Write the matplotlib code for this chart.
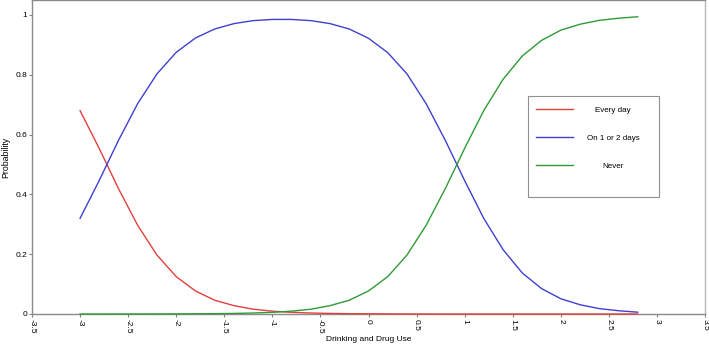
import matplotlib
matplotlib.use("Agg")
import matplotlib.pyplot as plt
from matplotlib.patches import Rectangle
import numpy as np

plt.rcParams['font.family'] = ['Liberation Sans', 'DejaVu Sans']

# predicted probabilities
use = [-3.0, -2.8, -2.6, -2.4, -2.2, -2.0, -1.8, -1.6, -1.4, -1.2,
       -1.0, -0.8, -0.6, -0.4, -0.2, 0.0, 0.2, 0.4, 0.6, 0.8,
       1.0, 1.2, 1.4, 1.6, 1.8, 2.0, 2.2, 2.4, 2.6, 2.8]
every_day = [0.680, 0.553, 0.419, 0.296, 0.197, 0.125, 0.077, 0.046, 0.028, 0.016,
             0.0095, 0.0056, 0.0033, 0.0019, 0.0011, 0.0007, 0.0004, 0.0002, 0.0001, 0.0001,
             0.0, 0.0, 0.0, 0.0, 0.0, 0.0, 0.0, 0.0, 0.0, 0.0]
one_two = [0.320, 0.447, 0.581, 0.704, 0.803, 0.875, 0.923, 0.953, 0.971, 0.981,
           0.985, 0.985, 0.981, 0.971, 0.953, 0.922, 0.874, 0.803, 0.703, 0.580,
           0.446, 0.319, 0.215, 0.137, 0.085, 0.051, 0.031, 0.018, 0.011, 0.006]
never = [0.0, 0.0, 0.0001, 0.0001, 0.0002, 0.0004, 0.0007, 0.0011, 0.0019, 0.0033,
         0.0056, 0.0095, 0.016, 0.028, 0.046, 0.077, 0.125, 0.197, 0.297, 0.420,
         0.554, 0.681, 0.785, 0.863, 0.915, 0.949, 0.969, 0.982, 0.989, 0.994]
labels = ['Every day', 'On 1 or 2 days', 'Never']
xticks = np.arange(-3.5, 3.51, 0.5)
yticks = [0, 0.2, 0.4, 0.6, 0.8, 1]

fig = plt.figure(figsize=(7.09, 3.47), dpi=100)
ax = fig.add_axes([32/709, 33/347, 673/709, 314/347])

l1, = ax.plot(use, every_day, color='#e2403c', lw=1, clip_on=False, zorder=3)
l2, = ax.plot(use, one_two, color='#4040d0', lw=1, clip_on=False, zorder=3)
l3, = ax.plot(use, never, color='#2f9a36', lw=1, clip_on=False, zorder=3)

ax.set_xlim(-3.5, 3.5)
ax.set_ylim(0, 1.05)
ax.set_xticks(xticks)
ax.set_xticklabels(['%g' % t for t in xticks], rotation=270)
ax.set_yticks(yticks)
ax.set_yticklabels(['%g' % t for t in yticks])
ax.tick_params(direction='out', length=2.5, width=0.8, color='#808080',
               labelsize=6, pad=0.8)
for s in ax.spines.values():
    s.set_color('#8a8a8a')
    s.set_linewidth(1)
ax.spines['right'].set_color('#b8b8b8')

ax.set_xlabel('Drinking and Drug Use', fontsize=6, labelpad=2)
ax.set_ylabel('Probability', fontsize=6.3, labelpad=4)

# legend box
ax.add_patch(Rectangle((0.737, 0.373), 0.195, 0.321, transform=ax.transAxes,
                       fill=False, edgecolor='#909090', lw=0.8, zorder=4))
leg = ax.legend([l1, l2, l3], labels, loc='upper left',
                bbox_to_anchor=(0.749, 0.662), frameon=False, fontsize=5.8,
                borderpad=0, borderaxespad=0, handlelength=4.6,
                handletextpad=1.7, labelspacing=2.55)

fig.canvas.draw()
r = fig.canvas.get_renderer()
widths = [t.get_window_extent(r).width for t in leg.get_texts()]
for t, w in zip(leg.get_texts(), widths):
    t.set_x((max(widths) - w) / 2)

fig.savefig('out.png', dpi=100)
